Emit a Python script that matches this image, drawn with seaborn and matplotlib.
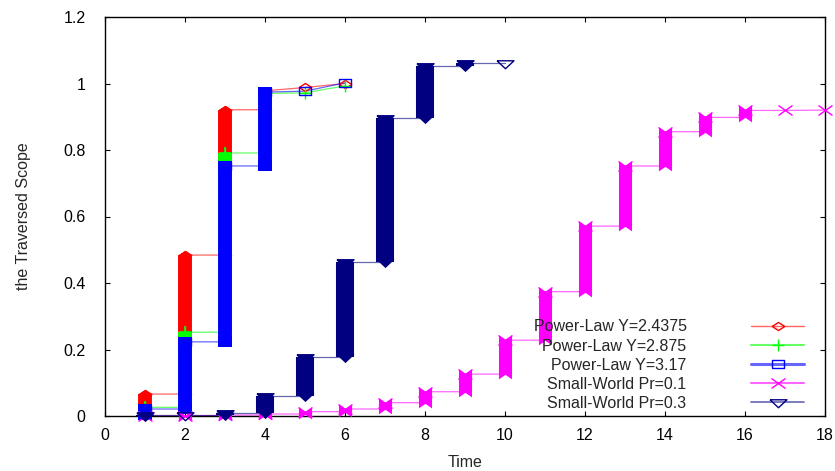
import numpy as np
import pandas as pd
import matplotlib
matplotlib.use("Agg")
import matplotlib.pyplot as plt
from matplotlib.lines import Line2D
from matplotlib.markers import MarkerStyle
from matplotlib.transforms import Affine2D
from matplotlib.colors import to_rgb
import seaborn as sns

# ============================================================================
# Data: traversed scope per time step. Within one step the scope rises from
# the first sample (lo) to the last one (hi); gnuplot stacks all samples of a
# step into a thick bar and the line then moves on to the next step.
# ============================================================================
labels = ["Power-Law Y=2.4375", "Power-Law Y=2.875", "Power-Law Y=3.17",
          "Small-World Pr=0.1", "Small-World Pr=0.3"]
colors = ["#ff0000", "#00ff00", "#0000ff", "#ff00ff", "#000080"]

time_pl = [1, 2, 3, 4, 5, 6]
pl_24375_lo = [0.003, 0.066, 0.484, 0.921, 0.988, 1.000]
pl_24375_hi = [0.066, 0.484, 0.921, 0.978, 0.988, 1.000]
pl_2875_lo = [0.003, 0.026, 0.252, 0.791, 0.972, 0.993]
pl_2875_hi = [0.026, 0.252, 0.791, 0.970, 0.972, 0.993]
pl_317_lo = [0.003, 0.021, 0.223, 0.752, 0.977, 1.002]
pl_317_hi = [0.021, 0.223, 0.752, 0.974, 0.977, 1.002]

time_sw01 = [1, 2, 3, 4, 5, 6, 7, 8, 9, 10, 11, 12, 13, 14, 15, 16, 17, 18]
sw01_lo = [0.000, 0.000, 0.001, 0.003, 0.006, 0.013, 0.021, 0.040, 0.073,
           0.126, 0.228, 0.374, 0.571, 0.752, 0.855, 0.898, 0.919, 0.920]
sw01_hi = [0.000, 0.001, 0.003, 0.006, 0.013, 0.021, 0.040, 0.073, 0.126,
           0.228, 0.374, 0.571, 0.752, 0.855, 0.898, 0.919, 0.919, 0.920]

time_sw03 = [1, 2, 3, 4, 5, 6, 7, 8, 9, 10]
sw03_lo = [0.000, 0.002, 0.002, 0.009, 0.060, 0.177, 0.463, 0.896, 1.052, 1.062]
sw03_hi = [0.002, 0.002, 0.009, 0.060, 0.177, 0.463, 0.896, 1.052, 1.062, 1.062]

x_ticks = [0, 2, 4, 6, 8, 10, 12, 14, 16, 18]
y_ticks = [0, 0.2, 0.4, 0.6, 0.8, 1.0, 1.2]
y_tick_labels = ["0", "0.2", "0.4", "0.6", "0.8", "1", "1.2"]

# gnuplot-like point shapes
diamond = [(-1, 0), (0, 0.65), (1, 0), (0, -0.65), (-1, 0)]
square = [(-1, -0.75), (1, -0.75), (1, 0.75), (-1, 0.75), (-1, -0.75)]
tri_down = [(-1, 0.32), (1, 0.32), (0, -0.62), (-1, 0.32)]
bowtie = [(-1, 0.75), (0, 0.05), (1, 0.75), (1, -0.75), (0, -0.05), (-1, -0.75), (-1, 0.75)]
x_flat = MarkerStyle("x", transform=Affine2D().scale(1, 0.77))

series = [
    dict(time=time_pl, lo=pl_24375_lo, hi=pl_24375_hi, marker=diamond, ms=9.0,
         end=diamond, end_ms=10.0, end_mew=0, bar_w=10.0, leg_lw=1.0),
    dict(time=time_pl, lo=pl_2875_lo, hi=pl_2875_hi, marker="+", ms=8.6,
         end="+", end_ms=8.6, end_mew=1.2, bar_w=10.0, leg_lw=1.5),
    dict(time=time_pl, lo=pl_317_lo, hi=pl_317_hi, marker=square, ms=8.6,
         end=square, end_ms=10.0, end_mew=0, bar_w=10.0, leg_lw=2.2),
    dict(time=time_sw01, lo=sw01_lo, hi=sw01_hi, marker=x_flat, ms=9.4,
         end=bowtie, end_ms=9.4, end_mew=0, bar_w=9.4, leg_lw=1.5),
    dict(time=time_sw03, lo=sw03_lo, hi=sw03_hi, marker=tri_down, ms=12.2,
         end=tri_down, end_ms=13.0, end_mew=0, bar_w=13.0, leg_lw=1.2),
]
for s, lab, col in zip(series, labels, colors):
    s["label"] = lab
    s["color"] = col

# Style
sns.set_style("ticks")
plt.rcParams["font.family"] = ["Liberation Sans", "DejaVu Sans"]

fig, ax = plt.subplots(figsize=(8.35, 4.71), dpi=100)
fig.subplots_adjust(left=105 / 835, right=825 / 835, bottom=1 - 416 / 471, top=1 - 17 / 471)

# long table for the connecting lines: (t, lo) -> (t, hi) -> next step
rows = []
for s in series:
    for t, lo, hi in zip(s["time"], s["lo"], s["hi"]):
        rows.append((s["label"], t, lo))
        rows.append((s["label"], t, hi))
df = pd.DataFrame(rows, columns=["series", "time", "scope"])

sns.lineplot(data=df, x="time", y="scope", hue="series", hue_order=labels,
             palette=dict(zip(labels, colors)), estimator=None, sort=False,
             lw=0.9, alpha=0.6, legend=False, ax=ax, zorder=2)

# stacked points -> thick bars with the point shape at both ends
for s in series:
    t = np.array(s["time"], dtype=float)
    lo = np.array(s["lo"])
    hi = np.array(s["hi"])
    rise = hi > lo
    bars = ax.vlines(t[rise], lo[rise], hi[rise], colors=s["color"], lw=s["bar_w"], zorder=3)
    bars.set_capstyle("butt")
    ax.plot(np.concatenate([t[rise], t[rise]]), np.concatenate([lo[rise], hi[rise]]),
            ls="none", marker=s["end"], ms=s["end_ms"], mfc=s["color"], mec=s["color"],
            mew=s["end_mew"], zorder=3, clip_on=False)
    ax.plot(t, hi, ls="none", marker=s["marker"], ms=s["ms"], mfc="none",
            mec=s["color"], mew=1.0, zorder=3, clip_on=False)

ax.set_xlim(0, 18)
ax.set_ylim(0, 1.2)
ax.set_xticks(x_ticks)
ax.set_yticks(y_ticks)
ax.set_yticklabels(y_tick_labels)
ax.tick_params(direction="in", length=3.6, width=0.8, top=True, right=True,
               labelsize=11.5, colors="black")
ax.tick_params(axis="x", pad=9)
ax.tick_params(axis="y", pad=14)
for sp in ax.spines.values():
    sp.set_color("black")
    sp.set_linewidth(1.0)

ax.set_xlabel("Time", fontsize=11.5, labelpad=8)
ax.set_ylabel("the Traversed Scope", fontsize=11.5, labelpad=23)

# legend: text right-aligned, sample line with one point on the right
handles = [Line2D([], [], color=(*to_rgb(s["color"]), 0.6), lw=s["leg_lw"],
                  marker=s["marker"], ms=s["ms"], mfc="none",
                  mec=s["color"], mew=1.0) for s in series]
ax.legend(handles, labels, loc="lower right", bbox_to_anchor=(804 / 835, 60 / 471),
          bbox_transform=fig.transFigure, frameon=False, markerfirst=False,
          fontsize=11.5, handlelength=3.3, handletextpad=4.05, labelspacing=0.26,
          borderpad=0, borderaxespad=0, numpoints=1)

fig.savefig("out.png", dpi=100)
